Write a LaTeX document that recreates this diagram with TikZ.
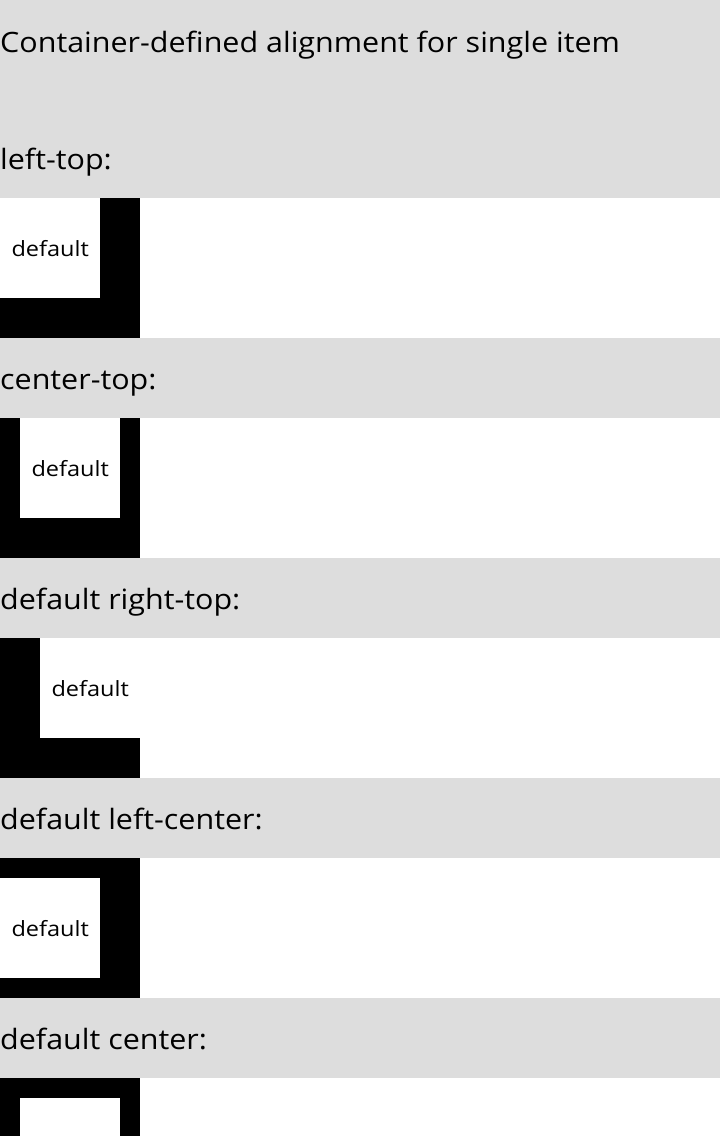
\documentclass[tikz,border=0pt]{standalone}
\usepackage{fontspec}
\setmainfont[FakeStretch=1.088]{Open Sans}
\newfontfamily\itemfont[FakeStretch=1.12]{Open Sans}
\begin{document}
\begin{tikzpicture}[x=1pt,y=-1pt,
  band/.style={fill=gray!26.5, draw=none},
  heading/.style={anchor=base west, inner sep=0pt, font=\fontsize{28}{30}\selectfont},
  outerbox/.style={fill=black, draw=none},
  itembox/.style={fill=white, draw=none, minimum width=100pt, minimum height=100pt, inner sep=0pt, anchor=north west, font=\itemfont\fontsize{21}{23}\selectfont}]
\useasboundingbox (0,0) rectangle (720,1136);
\fill[white] (0,0) rectangle (720,1136);
% grey header bands
\fill[band] (0,0) rectangle (720,198);
\fill[band] (0,338) rectangle (720,418);
\fill[band] (0,558) rectangle (720,638);
\fill[band] (0,778) rectangle (720,858);
\fill[band] (0,998) rectangle (720,1078);
% headings
\node[heading] (title) at (0,52) {Container-defined alignment for single item};
\node[heading] (h1) at (0,169) {left-top:};
\node[heading] (h2) at (0,389) {center-top:};
\node[heading] (h3) at (0,609) {default right-top:};
\node[heading] (h4) at (0,829) {default left-center:};
\node[heading] (h5) at (0,1049) {default center:};
% containers
\fill[outerbox] (0,198) rectangle (140,338);
\fill[outerbox] (0,418) rectangle (140,558);
\fill[outerbox] (0,638) rectangle (140,778);
\fill[outerbox] (0,858) rectangle (140,998);
\fill[outerbox] (0,1078) rectangle (140,1218);
% items
\node[itembox] (i1) at (0,198) {default};
\node[itembox] (i2) at (20,418) {default};
\node[itembox] (i3) at (40,638) {default};
\node[itembox] (i4) at (0,878) {default};
\node[itembox] (i5) at (20,1098) {};
\end{tikzpicture}
\end{document}
